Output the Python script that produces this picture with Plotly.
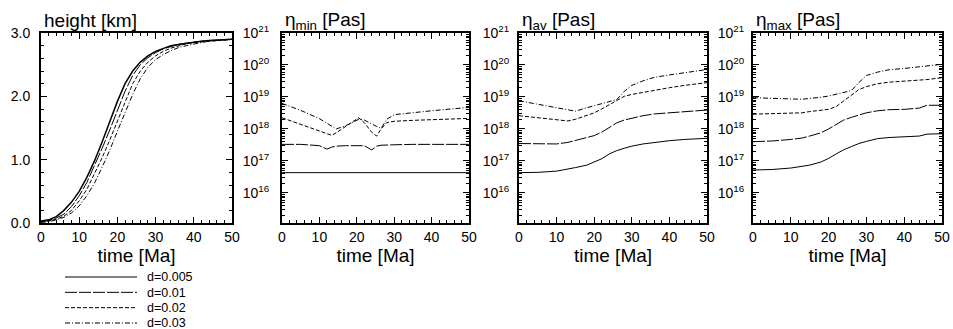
import plotly.graph_objects as go

# ---------------- data ----------------
labels = ["d=0.005", "d=0.01", "d=0.02", "d=0.03"]

# panel 1: height [km]
t_height = [0, 2, 4, 6, 8, 10, 12, 14, 16, 18, 20, 22, 24, 26, 28, 30, 32, 34, 36, 38, 40, 42, 44, 46, 48, 50]
height_d0005 = [0.03, 0.05, 0.10, 0.20, 0.33, 0.50, 0.72, 0.98, 1.28, 1.60, 1.92, 2.20, 2.40, 2.54, 2.64, 2.71, 2.76, 2.80, 2.82, 2.84, 2.86, 2.87, 2.88, 2.89, 2.89, 2.90]
height_d001 = [0.02, 0.04, 0.08, 0.14, 0.26, 0.43, 0.64, 0.90, 1.18, 1.47, 1.78, 2.08, 2.33, 2.50, 2.61, 2.69, 2.75, 2.79, 2.82, 2.84, 2.86, 2.87, 2.88, 2.89, 2.89, 2.90]
height_d002 = [0.02, 0.03, 0.06, 0.11, 0.20, 0.35, 0.53, 0.77, 1.03, 1.31, 1.61, 1.92, 2.20, 2.40, 2.54, 2.64, 2.71, 2.76, 2.80, 2.83, 2.85, 2.86, 2.87, 2.88, 2.89, 2.90]
height_d003 = [0.01, 0.02, 0.05, 0.09, 0.16, 0.27, 0.43, 0.63, 0.88, 1.15, 1.45, 1.75, 2.03, 2.28, 2.46, 2.58, 2.66, 2.72, 2.77, 2.80, 2.83, 2.85, 2.87, 2.88, 2.89, 2.90]

# panel 2: eta_min [Pas]
t_min = [0, 5, 10, 12, 13.3, 14.5, 17, 20.5, 22, 24, 25.3, 26.5, 28, 30, 35, 40, 45, 50]
eta_min_d0005 = [4.3e16, 4.3e16, 4.3e16, 4.3e16, 4.3e16, 4.3e16, 4.3e16, 4.3e16, 4.3e16, 4.5e16, 4.3e16, 4.3e16, 4.3e16, 4.3e16, 4.3e16, 4.3e16, 4.3e16, 4.3e16]
eta_min_d001 = [3.3e17, 3.3e17, 3.0e17, 2.35e17, 2.7e17, 2.9e17, 3.0e17, 3.1e17, 3.0e17, 2.2e17, 2.9e17, 3.1e17, 3.2e17, 3.2e17, 3.3e17, 3.3e17, 3.3e17, 3.3e17]
eta_min_d002 = [2.24e18, 1.38e18, 8.7e17, 7.2e17, 6.3e17, 7.6e17, 1.17e18, 2.24e18, 1.58e18, 7.9e17, 6.0e17, 1.0e18, 1.58e18, 1.74e18, 1.86e18, 2.0e18, 2.04e18, 2.14e18]
eta_min_d003 = [6.3e18, 3.8e18, 2.1e18, 1.5e18, 1.26e18, 1.0e18, 1.26e18, 2.0e18, 1.9e18, 1.41e18, 1.2e18, 1.05e18, 2.0e18, 2.8e18, 3.3e18, 3.7e18, 4.2e18, 4.7e18]

# panels 3 and 4: eta_av, eta_max [Pas]
t_eta = [0, 5, 10, 13, 15, 18, 20, 22, 24, 26, 28, 30, 33, 36, 40, 44, 46, 50]
eta_av_d0005 = [4.3e16, 4.4e16, 4.8e16, 5.5e16, 6.2e16, 7.4e16, 9.3e16, 1.17e17, 1.66e17, 2.1e17, 2.5e17, 2.9e17, 3.4e17, 3.8e17, 4.3e17, 4.7e17, 4.9e17, 5.1e17]
eta_av_d001 = [3.5e17, 3.4e17, 3.4e17, 3.8e17, 4.4e17, 5.2e17, 6.2e17, 7.9e17, 1.12e18, 1.55e18, 1.9e18, 2.2e18, 2.6e18, 2.95e18, 3.2e18, 3.5e18, 3.6e18, 3.9e18]
eta_av_d002 = [2.6e18, 2.24e18, 1.95e18, 1.78e18, 2.0e18, 2.6e18, 3.2e18, 4.2e18, 5.8e18, 7.9e18, 1.05e19, 1.2e19, 1.41e19, 1.62e19, 1.95e19, 2.3e19, 2.45e19, 2.8e19]
eta_av_d003 = [7.6e18, 6.0e18, 4.7e18, 4.0e18, 3.6e18, 4.6e18, 5.4e18, 6.3e18, 7.2e18, 8.3e18, 1.5e19, 2.3e19, 3.2e19, 4.1e19, 4.9e19, 5.6e19, 6.2e19, 7.2e19]

eta_max_d0005 = [5.2e16, 5.4e16, 6.0e16, 6.6e16, 7.4e16, 9.3e16, 1.2e17, 1.66e17, 2.24e17, 2.8e17, 3.5e17, 4.1e17, 5.0e17, 5.4e17, 5.6e17, 6.0e17, 6.9e17, 7.1e17]
eta_max_d001 = [4.0e17, 4.2e17, 4.7e17, 5.2e17, 6.0e17, 7.6e17, 1.0e18, 1.41e18, 1.9e18, 2.3e18, 2.75e18, 3.2e18, 3.7e18, 4.0e18, 4.1e18, 4.5e18, 5.5e18, 5.5e18]
eta_max_d002 = [2.9e18, 2.95e18, 3.1e18, 3.2e18, 3.5e18, 3.8e18, 4.1e18, 5.0e18, 7.4e18, 1.12e19, 1.7e19, 2.1e19, 2.6e19, 2.9e19, 3.1e19, 3.3e19, 3.5e19, 4.0e19]
eta_max_d003 = [9.5e18, 9.3e18, 8.7e18, 8.5e18, 8.9e18, 9.8e18, 1.07e19, 1.2e19, 1.35e19, 1.58e19, 2.8e19, 4.7e19, 6.0e19, 7.1e19, 7.8e19, 8.7e19, 9.3e19, 1.05e20]

log_tickvals = [1e16, 1e17, 1e18, 1e19, 1e20, 1e21]
log_ticktext = ["10<sup>16</sup>", "10<sup>17</sup>", "10<sup>18</sup>", "10<sup>19</sup>", "10<sup>20</sup>", "10<sup>21</sup>"]
titles = ["height [km]", "η<sub>min</sub> [Pas]", "η<sub>av</sub> [Pas]", "η<sub>max</sub> [Pas]"]

# ---------------- styling ----------------
W, H = 953, 329
FONT = "Liberation Sans, Arial, Helvetica, sans-serif"
dashes = ["solid", "12px,2px", "4px,2px", "5px,2px,1px,2px"]
panels_px = [(41, 232), (282, 469), (519, 707), (753, 942)]
top_px, bot_px = 33, 223
label_standoff = [6, 8, 5, 4]

def px_x(p):
    return p / W

def px_y(p):
    return 1 - p / H

fig = go.Figure()

panel_data = [
    (t_height, [height_d0005, height_d001, height_d002, height_d003]),
    (t_min, [eta_min_d0005, eta_min_d001, eta_min_d002, eta_min_d003]),
    (t_eta, [eta_av_d0005, eta_av_d001, eta_av_d002, eta_av_d003]),
    (t_eta, [eta_max_d0005, eta_max_d001, eta_max_d002, eta_max_d003]),
]

for i, (tt, series) in enumerate(panel_data):
    ax = "" if i == 0 else str(i + 1)
    for j, s in enumerate(series):
        w = 1.5 if (i == 0 and j == 0) else 1.0
        fig.add_trace(go.Scatter(
            x=tt, y=s, mode="lines", name=labels[j], showlegend=False,
            line=dict(color="black", width=w, dash=dashes[j]),
            xaxis="x" + ax, yaxis="y" + ax,
        ))

minor_log = [float(k) * 10.0 ** n for n in range(15, 21) for k in range(2, 10)]

layout = dict(
    width=W, height=H, margin=dict(l=0, r=0, t=0, b=0, autoexpand=False),
    paper_bgcolor="white", plot_bgcolor="white",
    font=dict(family=FONT, color="black", size=14),
    showlegend=False,
)

for i, (x0, x1) in enumerate(panels_px):
    ax = "" if i == 0 else str(i + 1)
    xa = dict(
        domain=[px_x(x0), px_x(x1)], anchor="y" + ax, range=[0, 50], automargin=False,
        tick0=0, dtick=10, ticks="inside", ticklen=6, tickwidth=1, tickcolor="black",
        minor=dict(dtick=2, tick0=0, ticks="inside", ticklen=3, tickwidth=1, tickcolor="black"),
        showline=True, linewidth=2, linecolor="black", mirror="ticks",
        showgrid=False, zeroline=False, tickfont=dict(size=14),
        ticklabelstandoff=0,
        title=dict(text="time [Ma]", font=dict(size=19), standoff=0),
    )
    if i == 0:
        ya = dict(range=[0, 3], tick0=0, dtick=1, tickformat=".1f",
                  minor=dict(dtick=0.2, tick0=0, ticks="inside", ticklen=3, tickwidth=1, tickcolor="black"))
    else:
        ya = dict(type="log", range=[15.06, 21], tickmode="array",
                  tickvals=log_tickvals, ticktext=log_ticktext,
                  minor=dict(tickmode="array", tickvals=minor_log, ticks="inside", ticklen=3, tickwidth=1, tickcolor="black"))
    ya.update(dict(
        domain=[px_y(bot_px), px_y(top_px)], anchor="x" + ax, automargin=False,
        ticks="inside", ticklen=6, tickwidth=1, tickcolor="black",
        showline=True, linewidth=2, linecolor="black", mirror="ticks",
        showgrid=False, zeroline=False, tickfont=dict(size=14),
        ticklabelstandoff=label_standoff[i],
    ))
    layout["xaxis" + ax] = xa
    layout["yaxis" + ax] = ya

# legend panel (line samples with category labels)
layout["xaxis5"] = dict(domain=[px_x(65), px_x(137)], anchor="y5", range=[0, 1],
                        visible=False, automargin=False)
layout["yaxis5"] = dict(
    domain=[px_y(328), px_y(268)], anchor="x5", type="category", automargin=False,
    categoryorder="array", categoryarray=labels, range=[3.326, -0.587],
    tickmode="array", tickvals=labels, ticktext=labels,
    side="right", ticks="", showline=False, showgrid=False, zeroline=False,
    tickfont=dict(size=12.5), ticklabelstandoff=9,
)
for j, lab in enumerate(labels):
    fig.add_trace(go.Scatter(
        x=[0, 1], y=[lab, lab], mode="lines", showlegend=False, hoverinfo="skip",
        line=dict(color="black", width=1, dash=dashes[j]), xaxis="x5", yaxis="y5",
    ))

annotations = []
for i, (x0, x1) in enumerate(panels_px):
    annotations.append(dict(
        text=titles[i], xref="paper", yref="paper", x=px_x(x0 + 1), y=px_y(21),
        xanchor="left", yanchor="middle", showarrow=False, font=dict(size=19),
    ))
layout["annotations"] = annotations

fig.update_layout(**layout)
fig.write_html("out.html")
